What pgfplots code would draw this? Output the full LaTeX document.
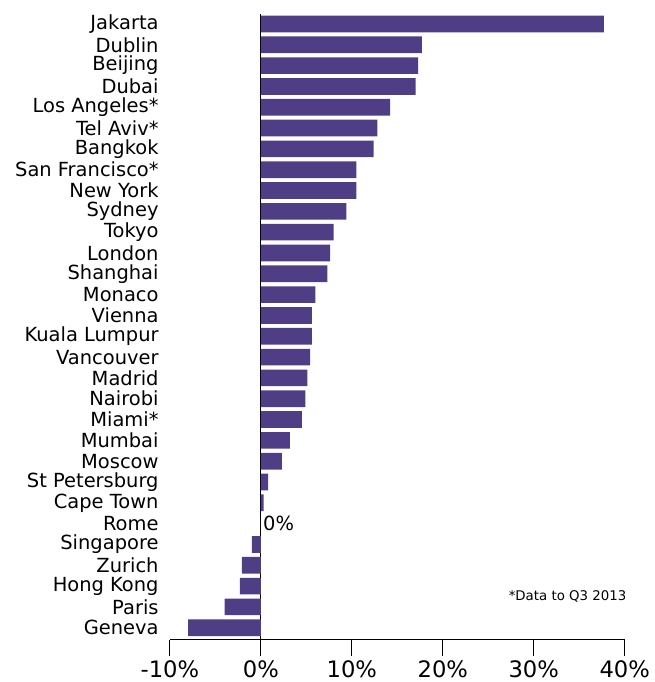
\documentclass[border=0pt]{standalone}
\usepackage{pgfplots}
\pgfplotsset{compat=1.18}
\usepackage{fontspec}
\setmainfont{DejaVu Sans}
\definecolor{barpurple}{HTML}{4F3D86}

\begin{document}
\begin{tikzpicture}
\begin{axis}[
    name=ax,
    scale only axis,
    width=341.25pt, height=469.5pt,
    xbar, bar width=0.8,
    xmin=-10, xmax=40,
    ymin=-0.576, ymax=29.48,
    axis x line=bottom, axis y line=left,
    axis line style={-, black, line width=0.8pt},
    y axis line style={draw=none},
    xtick={-10,0,10,20,30,40},
    xticklabel={\pgfmathprintnumber{\tick}\%},
    /pgf/number format/assume math mode=true,
    xtick align=outside, ytick align=inside,
    major tick length=12pt,
    xtick style={black, line width=0.8pt},
    ytick style={draw=none},
    extra x ticks={0},
    extra x tick labels={},
    extra x tick style={grid=major, major grid style={black, line width=0.8pt}},
    ytick={0,...,29},
    yticklabels={Geneva, Paris, Hong Kong, Zurich, Singapore, Rome, Cape Town,
        St Petersburg, Moscow, Mumbai, Miami*, Nairobi, Madrid, Vancouver,
        Kuala Lumpur, Vienna, Monaco, Shanghai, London, Tokyo, Sydney, New York,
        San Francisco*, Bangkok, Tel Aviv*, Los Angeles*, Dubai, Beijing, Dublin, Jakarta},
    yticklabel style={font=\fontsize{14.6}{15}\selectfont, xshift=-5pt},
    xticklabel style={font=\fontsize{17}{18}\selectfont},
]
\addplot[draw=none, fill=barpurple] coordinates {
    (-8.0,0) (-4.0,1) (-2.3,2) (-2.1,3) (-1.0,4) (0,5) (0.3,6) (0.8,7)
    (2.3,8) (3.2,9) (4.5,10) (4.9,11) (5.1,12) (5.4,13) (5.6,14) (5.6,15)
    (6.0,16) (7.3,17) (7.6,18) (8.0,19) (9.4,20) (10.5,21) (10.5,22)
    (12.4,23) (12.8,24) (14.2,25) (17.0,26) (17.3,27) (17.7,28) (37.7,29)
};
\node[anchor=west, inner sep=1.5pt, font=\fontsize{14.6}{15}\selectfont] at (axis cs:0,5) {0\%};
\node[anchor=east, inner sep=0pt, font=\fontsize{10}{11}\selectfont] at (axis cs:40.2,1.5) {*Data to Q3 2013};
\end{axis}
\path ([shift={(-127.5pt,-31.5pt)}]ax.south west) rectangle ([shift={(354.75pt,480pt)}]ax.south west);
\end{tikzpicture}
\end{document}
